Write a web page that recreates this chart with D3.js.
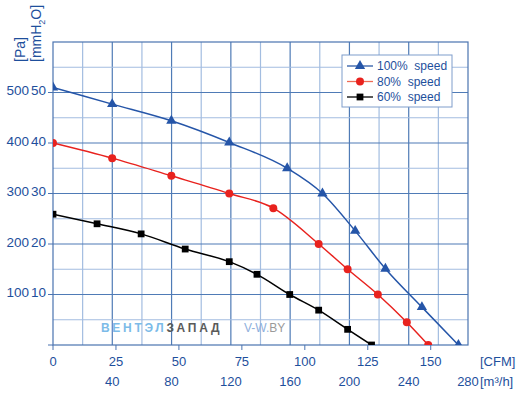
<!DOCTYPE html>
<html>
<head>
<meta charset="utf-8">
<script src="https://cdn.jsdelivr.net/npm/d3@7"></script>
<style>
  html, body { margin: 0; padding: 0; background: #fff; }
  #chart { width: 524px; height: 393px; }
  text { font-family: "Liberation Sans", Arial, sans-serif; }
</style>
</head>
<body>
<div id="chart"></div>
<script>
'use strict';

// Data: airflow in CFM, static pressure in Pa
var cfm100 = [0, 23.5, 47, 70, 93, 107, 120, 132, 146.5, 161]
var pa100  = [510, 477, 444, 401, 350, 300, 226, 151, 75, 0]
var cfm80  = [0, 23.5, 47, 70, 87.5, 105.5, 117, 129, 140.5, 149]
var pa80   = [400, 370, 335, 300, 271, 200, 150, 100, 45, 0]
var cfm60  = [0, 17.5, 35, 52.5, 70, 81, 94, 105.5, 117, 126.5]
var pa60   = [259, 240, 220, 190, 165, 140, 100, 69, 31, 0]

var seriesNames = ['100%  speed', '80%  speed', '60%  speed']

// Axis ticks
var paTicks   = [100, 200, 300, 400, 500]
var mmTicks   = ['10', '20', '30', '40', '50']
var cfmTicks  = [0, 25, 50, 75, 100, 125, 150]
var m3hTicks  = [40, 80, 120, 160, 200, 240, 280]

var CFM_TO_M3H = 1.699

var margin = {top: 42, right: 56, bottom: 48, left: 53}
var width = 524 - margin.left - margin.right
var height = 393 - margin.top - margin.bottom

var textBlue = '#1e4f9c'

var xM3h = d3.scaleLinear().domain([0, 280]).range([0, width])
var xCfm = d3.scaleLinear().domain([0, 280 / CFM_TO_M3H]).range([0, width])
var y = d3.scaleLinear().domain([0, 600]).range([height, 0])

var colorize = function(i){
  if (i == 0) return '#2555a8'
  if (i == 1) return '#e8221e'
  return '#000'
}
var legendLine = function(i){
  if (i == 0) return '#2d5aa6'
  if (i == 1) return '#ef6a55'
  return '#000'
}

var curves = [[cfm100, pa100], [cfm80, pa80], [cfm60, pa60]].map(function(s, i){
  return {
    idx: i,
    name: seriesNames[i],
    values: s[0].map(function(c, j){ return {cfm: c, pa: s[1][j]} })
  }
})

var svg = d3.select('#chart').append('svg')
  .attr('width', 524)
  .attr('height', 393)

var g = svg.append('g')
  .attr('transform', 'translate(' + margin.left + ',' + margin.top + ')')

g.append('defs').append('clipPath')
    .attr('id', 'plotclip')
  .append('rect')
    .attr('width', width)
    .attr('height', height)

// Grid: minor every 20 m3/h and 50 Pa, major every 40 m3/h and 100 Pa
var gx = d3.range(20, 280, 20)
var gy = d3.range(50, 600, 50)

g.selectAll('.vgrid')
  .data(gx)
  .enter().append('line')
    .attr('class', 'vgrid')
    .attr('x1', function(d){ return xM3h(d) })
    .attr('x2', function(d){ return xM3h(d) })
    .attr('y1', 0)
    .attr('y2', height)
    .style('stroke', function(d){ return d % 40 == 0 ? '#4f7bb6' : '#a3bde0' })
    .style('stroke-width', 1.2)

g.selectAll('.hgrid')
  .data(gy)
  .enter().append('line')
    .attr('class', 'hgrid')
    .attr('x1', 0)
    .attr('x2', width)
    .attr('y1', function(d){ return y(d) })
    .attr('y2', function(d){ return y(d) })
    .style('stroke', function(d){ return d % 100 == 0 ? '#4f7bb6' : '#a3bde0' })
    .style('stroke-width', 1.2)

g.append('rect')
    .attr('width', width)
    .attr('height', height)
    .style('fill', 'none')
    .style('stroke', '#4a73b0')
    .style('stroke-width', 1.2)

// Bottom axis stub to the left and tick marks
g.append('line')
    .attr('x1', -5).attr('x2', 0)
    .attr('y1', height).attr('y2', height)
    .style('stroke', '#4a73b0')

g.selectAll('.ytick')
  .data(paTicks)
  .enter().append('line')
    .attr('class', 'ytick')
    .attr('x1', -5).attr('x2', 0)
    .attr('y1', function(d){ return y(d) })
    .attr('y2', function(d){ return y(d) })
    .style('stroke', '#4a73b0')

g.selectAll('.xtick')
  .data(cfmTicks)
  .enter().append('line')
    .attr('class', 'xtick')
    .attr('x1', function(d){ return xCfm(d) })
    .attr('x2', function(d){ return xCfm(d) })
    .attr('y1', height).attr('y2', height + 5)
    .style('stroke', '#4a73b0')

// Y tick labels: Pa and mmH2O side by side
g.selectAll('.palabel')
  .data(paTicks)
  .enter().append('text')
    .attr('class', 'palabel')
    .attr('x', -24)
    .attr('y', function(d){ return y(d) - 2 })
    .attr('dy', '0.35em')
    .style('font-size', '13.5px')
    .style('text-anchor', 'end')
    .style('fill', textBlue)
    .text(function(d){ return d })

g.selectAll('.mmlabel')
  .data(paTicks)
  .enter().append('text')
    .attr('class', 'mmlabel')
    .attr('x', -7)
    .attr('y', function(d){ return y(d) - 2 })
    .attr('dy', '0.35em')
    .style('font-size', '13.5px')
    .style('text-anchor', 'end')
    .style('fill', textBlue)
    .text(function(d, i){ return mmTicks[i] })

// X tick labels
g.selectAll('.cfmlabel')
  .data(cfmTicks)
  .enter().append('text')
    .attr('class', 'cfmlabel')
    .attr('x', function(d){ return xCfm(d) })
    .attr('y', height + 21)
    .style('font-size', '13px')
    .style('text-anchor', 'middle')
    .style('fill', textBlue)
    .text(function(d){ return d })

g.selectAll('.m3hlabel')
  .data(m3hTicks)
  .enter().append('text')
    .attr('class', 'm3hlabel')
    .attr('x', function(d){ return xM3h(d) })
    .attr('y', height + 41)
    .style('font-size', '13px')
    .style('text-anchor', 'middle')
    .style('fill', textBlue)
    .text(function(d){ return d })

// Unit labels
svg.append('text')
    .attr('x', 480).attr('y', 366)
    .style('font-size', '13px')
    .style('fill', textBlue)
    .text('[CFM]')

svg.append('text')
    .attr('x', 480).attr('y', 386)
    .style('font-size', '13px')
    .style('fill', textBlue)
    .text('[m³/h]')

svg.append('text')
    .attr('transform', 'translate(25,62) rotate(-90)')
    .style('font-size', '14px')
    .style('fill', textBlue)
    .text('[Pa]')

var mm = svg.append('text')
    .attr('transform', 'translate(41,62) rotate(-90)')
    .style('font-size', '14px')
    .style('fill', textBlue)
mm.append('tspan').text('[mmH')
mm.append('tspan').attr('dy', 4).style('font-size', '9px').text('2')
mm.append('tspan').attr('dy', -4).text('O]')

// Watermark
var wm = g.append('text')
    .attr('x', 48)
    .attr('y', 332 - margin.top)
    .style('font-size', '12px')
    .style('font-weight', 'bold')
    .style('letter-spacing', '2.7px')
wm.append('tspan').style('fill', '#7cbbe8').text('ВЕНТЭЛ')
wm.append('tspan').style('fill', '#5a5a5a').text('ЗАПАД')

var wm2 = g.append('text')
    .attr('x', 191)
    .attr('y', 332 - margin.top)
    .style('font-size', '12px')
wm2.append('tspan').style('fill', '#8fb0dc').text('V-W.')
wm2.append('tspan').style('fill', '#9a9a9a').text('BY')

// Curves
var line = d3.line()
  .curve(d3.curveMonotoneX)
  .x(function(d){ return xCfm(d.cfm) })
  .y(function(d){ return y(d.pa) })

var plot = g.append('g')
  .attr('clip-path', 'url(#plotclip)')

var curve = plot.selectAll('.curve')
  .data(curves)
  .enter().append('g')
    .attr('class', 'curve')

curve.append('path')
    .attr('d', function(d){ return line(d.values) })
    .style('stroke', function(d){ return colorize(d.idx) })
    .style('stroke-width', 1.5)
    .style('fill', 'none')

var symbolFor = function(i){
  if (i == 0) return d3.symbol().type(d3.symbolTriangle).size(46)()
  if (i == 1) return d3.symbol().type(d3.symbolCircle).size(50)()
  return d3.symbol().type(d3.symbolSquare).size(46)()
}

curve.each(function(c){
  d3.select(this).selectAll('.marker')
    .data(c.values)
    .enter().append('path')
      .attr('class', 'marker')
      .attr('transform', function(d){ return 'translate(' + xCfm(d.cfm) + ',' + y(d.pa) + ')' })
      .attr('d', symbolFor(c.idx))
      .style('fill', colorize(c.idx))
})

// Legend
var legend = svg.append('g')
  .attr('transform', 'translate(342,55)')

legend.append('rect')
    .attr('width', 110)
    .attr('height', 52)
    .style('fill', '#fff')
    .style('stroke', '#7f9dcb')
    .style('stroke-width', 1)

var item = legend.selectAll('.item')
  .data(curves)
  .enter().append('g')
    .attr('class', 'item')
    .attr('transform', function(d, i){ return 'translate(0,' + (11 + i * 15.5) + ')' })

item.append('line')
    .attr('x1', 5).attr('x2', 31)
    .style('stroke', function(d){ return legendLine(d.idx) })
    .style('stroke-width', 1.3)

item.append('path')
    .attr('transform', 'translate(18,0)')
    .attr('d', function(d){ return symbolFor(d.idx) })
    .style('fill', function(d){ return colorize(d.idx) })

item.append('text')
    .attr('x', 35)
    .attr('dy', '0.36em')
    .style('font-size', '12px')
    .style('white-space', 'pre')
    .style('fill', textBlue)
    .text(function(d){ return d.name })
</script>
</body>
</html>
